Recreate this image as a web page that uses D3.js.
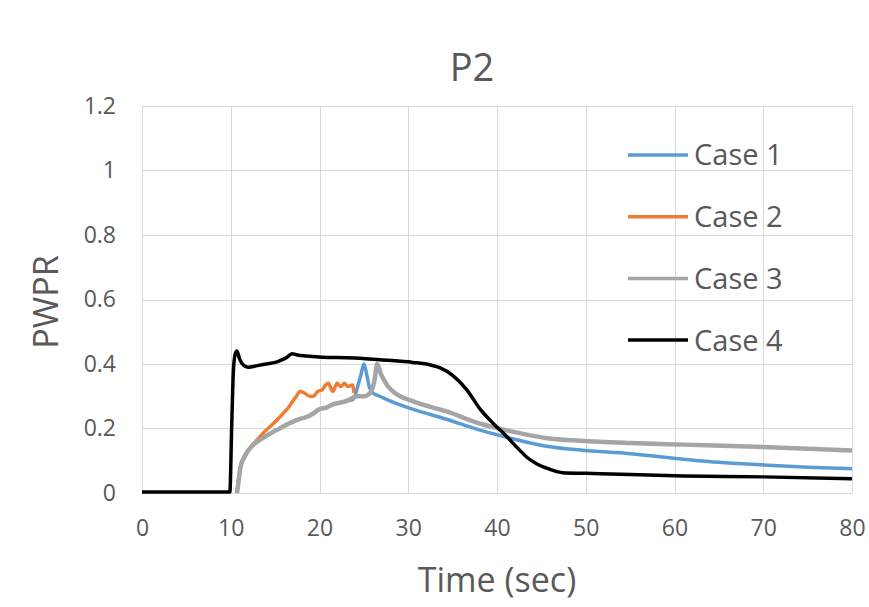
<!DOCTYPE html>
<html>
<head>
<meta charset="utf-8">
<script src="https://cdn.jsdelivr.net/npm/d3@7"></script>
<style>
  body { margin: 0; background: #fff; }
  text { font-family: "Open Sans", sans-serif; fill: #595959; }
</style>
</head>
<body>
<svg id="chart" width="869" height="607"></svg>
<script>
// ****** Data
var caseNames = ['Case 1', 'Case 2', 'Case 3', 'Case 4'];
var caseColors = ['#5B9BD5', '#ED7D31', '#A5A5A5', '#000000'];
var xTicks = [0, 10, 20, 30, 40, 50, 60, 70, 80];
var yTicks = [0, 0.2, 0.4, 0.6, 0.8, 1, 1.2];

// [time, pwpr]
var case1 = [[10.7,0],[10.9,0.04],[11.1,0.08],[11.5,0.11],[12.2,0.14],[13.3,0.165],[14.5,0.185],
  [15.5,0.2],[16.5,0.215],[17.8,0.23],[18.5,0.235],[19.2,0.245],[20,0.26],[20.8,0.265],[21.5,0.275],
  [22.3,0.28],[23,0.285],[23.8,0.29],[24.3,0.33],[24.7,0.37],[25,0.4],[25.3,0.37],[25.6,0.33],
  [26,0.31],[26.8,0.3],[28,0.285],[30.5,0.26],[34.4,0.228],[38.1,0.195],[41.8,0.168],[45.6,0.145],
  [49.4,0.133],[55,0.122],[61,0.105],[65,0.095],[70,0.087],[75,0.08],[80,0.075]];
var case2 = [[10.7,0],[10.9,0.05],[11.2,0.09],[11.7,0.12],[12.2,0.14],[12.8,0.16],[13.3,0.175],
  [14,0.195],[14.6,0.21],[15.5,0.235],[16,0.25],[16.5,0.265],[17,0.285],[17.4,0.3],[17.8,0.315],
  [18.3,0.31],[18.9,0.3],[19.3,0.3],[19.8,0.315],[20.3,0.32],[20.7,0.335],[21,0.34],[21.5,0.315],
  [22,0.34],[22.4,0.33],[22.8,0.34],[23.2,0.33],[23.7,0.335],[23.9,0.31]];
var case3 = [[10.7,0],[10.9,0.04],[11.1,0.08],[11.5,0.11],[12.2,0.14],[13.3,0.165],[14.5,0.185],
  [15.5,0.2],[16.5,0.215],[17.8,0.23],[18.5,0.235],[19.2,0.245],[20,0.26],[20.8,0.265],[21.5,0.275],
  [22.3,0.28],[23,0.285],[23.4,0.29],[24.2,0.3],[25,0.3],[25.7,0.31],[26.2,0.35],[26.5,0.4],
  [26.9,0.37],[27.6,0.335],[28.5,0.31],[30.5,0.285],[34.4,0.252],[38.1,0.215],[41.8,0.19],
  [45.6,0.17],[49.4,0.162],[55,0.155],[61,0.15],[70,0.143],[80,0.132]];
var case4 = [[0,0.003],[5,0.003],[9.9,0.003],[10.1,0.2],[10.3,0.38],[10.5,0.43],[10.7,0.44],
  [11,0.415],[11.5,0.395],[12,0.39],[13,0.395],[14,0.4],[15,0.405],[15.5,0.41],[16.3,0.42],
  [16.9,0.432],[17.5,0.428],[18.5,0.425],[20,0.422],[22,0.42],[24.6,0.418],[26.8,0.413],
  [30.5,0.405],[32.5,0.397],[33.6,0.388],[35,0.365],[36.6,0.32],[38.1,0.26],[39.6,0.215],[41.1,0.175],
  [42.3,0.14],[43.4,0.11],[44.5,0.09],[45.6,0.077],[46.8,0.066],[47.4,0.063],[50,0.061],
  [55,0.057],[61,0.053],[70,0.05],[80,0.044]];
var allCases = [case1, case2, case3, case4];

// ****** Layout
var margin = { top: 106, right: 17, bottom: 114, left: 142 };
var width = 869 - margin.left - margin.right;
var height = 607 - margin.top - margin.bottom;

var svg = d3.select('#chart');
var g = svg.append('g').attr('transform', 'translate(' + margin.left + ',' + margin.top + ')');

var x = d3.scaleLinear().domain([0, 80]).range([0, width]);
var y = d3.scaleLinear().domain([0, 1.2]).range([height, 0]);

// gridlines
g.append('g').selectAll('line.hg').data(yTicks).join('line')
  .attr('x1', 0).attr('x2', width)
  .attr('y1', function(d) { return Math.round(y(d)) + 0.5; })
  .attr('y2', function(d) { return Math.round(y(d)) + 0.5; })
  .attr('stroke', '#d9d9d9').attr('stroke-width', 1);
g.append('g').selectAll('line.vg').data(xTicks).join('line')
  .attr('y1', 0).attr('y2', height)
  .attr('x1', function(d) { return Math.round(x(d)) + 0.5; })
  .attr('x2', function(d) { return Math.round(x(d)) + 0.5; })
  .attr('stroke', '#d9d9d9').attr('stroke-width', 1);

// axes (labels only, Excel style)
var xAxis = d3.axisBottom(x).tickValues(xTicks).tickSize(0).tickPadding(27);
var yAxis = d3.axisLeft(y).tickValues(yTicks).tickSize(0).tickPadding(26)
  .tickFormat(function(d) { return String(d); });
var gx = g.append('g').attr('transform', 'translate(0,' + height + ')').call(xAxis);
var gy = g.append('g').call(yAxis);
[gx, gy].forEach(function(a) {
  a.select('.domain').remove();
  a.selectAll('text').style('font-size', '23px').style('font-family', '"Open Sans", sans-serif').attr('fill', '#595959');
});

// series lines
var line = d3.line().curve(d3.curveMonotoneX)
  .x(function(d) { return x(d[0]); }).y(function(d) { return y(d[1]); });
var widths = [3.5, 3.5, 4.5, 3.5];
allCases.forEach(function(data, i) {
  g.append('path').datum(data)
    .attr('d', line)
    .attr('fill', 'none')
    .attr('stroke', caseColors[i])
    .attr('stroke-width', widths[i])
    .attr('stroke-linejoin', 'round');
});

// legend
var legend = svg.append('g');
caseNames.forEach(function(name, i) {
  var ly = 155 + i * 61.7;
  legend.append('line').attr('x1', 628).attr('x2', 688).attr('y1', ly).attr('y2', ly)
    .attr('stroke', caseColors[i]).attr('stroke-width', 3.5);
  legend.append('text').attr('x', 694).attr('y', ly).attr('dy', '0.36em')
    .style('font-size', '29px').text(name);
});

// titles
svg.append('text').attr('x', 472).attr('y', 81).attr('text-anchor', 'middle')
  .style('font-size', '38px').text('P2');
svg.append('text').attr('transform', 'translate(58,302) rotate(-90)').attr('text-anchor', 'middle')
  .style('font-size', '34px').text('PWPR');
svg.append('text').attr('x', 497).attr('y', 592).attr('text-anchor', 'middle')
  .style('font-size', '34px').text('Time (sec)');
</script>
</body>
</html>
